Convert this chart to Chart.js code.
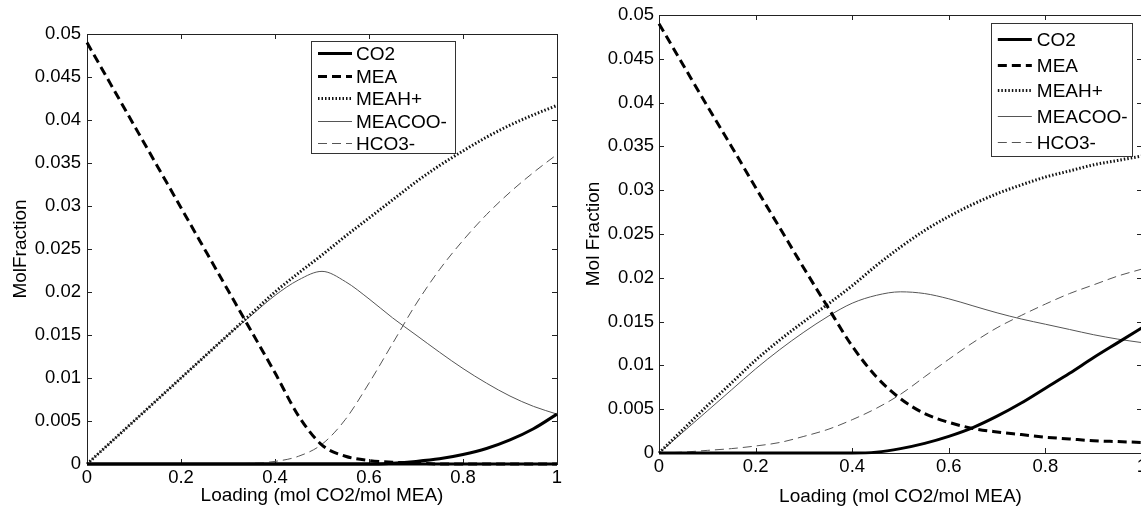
<!DOCTYPE html>
<html>
<head>
<meta charset="utf-8">
<script src="https://cdn.jsdelivr.net/npm/chart.js@4.4.1/dist/chart.umd.min.js"></script>
<style>
  html, body { margin: 0; padding: 0; background: #fff; overflow: hidden; width: 1141px; height: 508px; }
  .panel { position: absolute; top: 0; height: 508px; }
  #leftPanel { left: 0; width: 570px; }
  #rightPanel { left: 570px; width: 573px; }
</style>
</head>
<body>
<div class="panel" id="leftPanel"><canvas id="chartLeft" width="570" height="508"></canvas></div>
<div class="panel" id="rightPanel"><canvas id="chartRight" width="573" height="508"></canvas></div>
<script>
// CO2 loading (mol CO2 / mol MEA)
const loading = [0, 0.05, 0.1, 0.15, 0.2, 0.25, 0.3, 0.35, 0.4, 0.45, 0.5,
                 0.55, 0.6, 0.65, 0.7, 0.75, 0.8, 0.85, 0.9, 0.95, 1];

// Species mole fractions, first case
const co2Left    = [0, 0, 0, 0, 0, 0, 0, 0, 0, 0, 0, 0, 0, 0.0001, 0.0003, 0.0006, 0.0011, 0.0018, 0.0028, 0.0041, 0.0058];
const meaLeft    = [0.0490, 0.0442, 0.0394, 0.0346, 0.0298, 0.0250, 0.0202, 0.0154, 0.0106, 0.0056, 0.0022, 0.0009, 0.0004, 0.0002, 0.0001, 0, 0, 0, 0, 0, 0];
const meahLeft   = [0, 0.0025, 0.0050, 0.0075, 0.0100, 0.0125, 0.0150, 0.0175, 0.0200, 0.0222, 0.0243, 0.0265, 0.0286, 0.0307, 0.0328, 0.0347, 0.0364, 0.0380, 0.0394, 0.0406, 0.0417];
const meacooLeft = [0, 0.0025, 0.0050, 0.0075, 0.0100, 0.0125, 0.0150, 0.0173, 0.0196, 0.0214, 0.0224, 0.0212, 0.0192, 0.0170, 0.0150, 0.0130, 0.0111, 0.0094, 0.0079, 0.0067, 0.0058];
const hco3Left   = [0, 0, 0, 0, 0, 0, 0, 0.0001, 0.0003, 0.0009, 0.0023, 0.0052, 0.0094, 0.0140, 0.0186, 0.0226, 0.0260, 0.0290, 0.0316, 0.0339, 0.0360];

// Species mole fractions, second case
const co2Right    = [0, 0, 0, 0, 0, 0, 0, 0, 0, 0.0001, 0.0005, 0.0011, 0.0019, 0.0029, 0.0042, 0.0057, 0.0074, 0.0091, 0.0109, 0.0126, 0.0143];
const meaRight    = [0.0490, 0.0443, 0.0396, 0.0350, 0.0303, 0.0257, 0.0211, 0.0166, 0.0122, 0.0087, 0.0062, 0.0045, 0.0035, 0.0028, 0.0024, 0.0021, 0.0018, 0.0016, 0.0014, 0.0013, 0.0012];
const meahRight   = [0, 0.0027, 0.0054, 0.0080, 0.0106, 0.0129, 0.0150, 0.0170, 0.0191, 0.0214, 0.0235, 0.0254, 0.0270, 0.0284, 0.0296, 0.0306, 0.0315, 0.0322, 0.0329, 0.0334, 0.0339];
const meacooRight = [0, 0.0024, 0.0048, 0.0072, 0.0096, 0.0118, 0.0138, 0.0156, 0.0171, 0.0180, 0.0184, 0.0182, 0.0176, 0.0168, 0.0160, 0.0153, 0.0147, 0.0141, 0.0135, 0.0130, 0.0126];
const hco3Right   = [0, 0.0001, 0.0003, 0.0005, 0.0008, 0.0012, 0.0019, 0.0027, 0.0038, 0.0051, 0.0067, 0.0087, 0.0107, 0.0126, 0.0143, 0.0157, 0.0170, 0.0182, 0.0192, 0.0202, 0.0210];

const speciesNames = ['CO2', 'MEA', 'MEAH+', 'MEACOO-', 'HCO3-'];
const xTickLabels = ['0', '0.2', '0.4', '0.6', '0.8', '1'];
const yTickLabels = ['0', '0.005', '0.01', '0.015', '0.02', '0.025', '0.03', '0.035', '0.04', '0.045', '0.05'];

const FONT = "'Liberation Sans', Arial, Helvetica, sans-serif";

// line styles for the five species
const speciesStyles = [
  { borderColor: '#000', borderWidth: 3, borderDash: [] },
  { borderColor: '#000', borderWidth: 3, borderDash: [9, 5] },
  { borderColor: '#111', borderWidth: 3, borderDash: [1.5, 2] },
  { borderColor: '#555', borderWidth: 1, borderDash: [] },
  { borderColor: '#555', borderWidth: 1, borderDash: [9, 5] }
];

function toPoints(values) {
  return loading.map((x, i) => ({ x: x, y: values[i] }));
}

function buildDatasets(seriesList) {
  return seriesList.map((values, i) => Object.assign({
    label: speciesNames[i],
    data: toPoints(values),
    pointRadius: 0,
    fill: false,
    cubicInterpolationMode: 'monotone',
    clip: false
  }, speciesStyles[i]));
}

// MATLAB-style boxed axes with inward tick marks
const boxAxes = {
  id: 'boxAxes',
  beforeDatasetsDraw(chart, args, opts) {
    const { ctx, chartArea: a, scales: { x, y } } = chart;
    const L = opts.tickLength;
    ctx.save();
    ctx.strokeStyle = '#222';
    ctx.lineWidth = 1;
    ctx.beginPath();
    x.ticks.forEach(t => {
      const px = Math.round(x.getPixelForValue(t.value)) + 0.5;
      ctx.moveTo(px, a.bottom); ctx.lineTo(px, a.bottom - L);
      ctx.moveTo(px, a.top); ctx.lineTo(px, a.top + L);
    });
    y.ticks.forEach(t => {
      const py = Math.round(y.getPixelForValue(t.value)) + 0.5;
      ctx.moveTo(a.left, py); ctx.lineTo(a.left + L, py);
      ctx.moveTo(a.right, py); ctx.lineTo(a.right - L, py);
    });
    ctx.stroke();
    ctx.strokeRect(Math.round(a.left) + 0.5, Math.round(a.top) + 0.5, Math.round(a.width), Math.round(a.height));
    if (opts.bottomWidth > 1) {
      ctx.lineWidth = opts.bottomWidth;
      ctx.strokeStyle = '#000';
      ctx.beginPath();
      ctx.moveTo(a.left, a.bottom);
      ctx.lineTo(a.right, a.bottom);
      ctx.stroke();
    }
    ctx.restore();
  }
};

// boxed legend inside the axes, with line samples taken from the datasets
const boxLegend = {
  id: 'boxLegend',
  afterDatasetsDraw(chart, args, opts) {
    const { ctx, chartArea: a } = chart;
    const left = a.left + opts.left * a.width;
    const right = a.left + opts.right * a.width;
    const top = a.top + opts.top * a.height;
    const bottom = a.top + opts.bottom * a.height;
    ctx.save();
    ctx.fillStyle = '#fff';
    ctx.fillRect(left, top, right - left, bottom - top);
    ctx.strokeStyle = '#333';
    ctx.lineWidth = 1;
    ctx.setLineDash([]);
    ctx.strokeRect(Math.round(left) + 0.5, Math.round(top) + 0.5, Math.round(right - left), Math.round(bottom - top));
    ctx.font = opts.fontSize + 'px ' + FONT;
    ctx.textBaseline = 'middle';
    ctx.textAlign = 'left';
    chart.data.datasets.forEach((ds, i) => {
      const cy = Math.round(top + opts.firstRow + i * opts.rowStep) + 0.5;
      ctx.strokeStyle = ds.borderColor;
      ctx.lineWidth = ds.borderWidth;
      ctx.setLineDash(ds.borderDash || []);
      ctx.beginPath();
      ctx.moveTo(left + opts.sampleStart, cy);
      ctx.lineTo(left + opts.sampleStart + opts.sampleLength, cy);
      ctx.stroke();
      ctx.setLineDash([]);
      ctx.fillStyle = '#000';
      ctx.fillText(ds.label, left + opts.textStart, cy + 1);
    });
    ctx.restore();
  }
};

function makeChart(canvasId, seriesList, cfg) {
  return new Chart(document.getElementById(canvasId), {
    type: 'line',
    data: { datasets: buildDatasets(seriesList) },
    plugins: [boxAxes, boxLegend],
    options: {
      responsive: false,
      animation: false,
      devicePixelRatio: 1,
      layout: { padding: cfg.padding },
      plugins: {
        legend: { display: false },
        tooltip: { enabled: false },
        boxAxes: { tickLength: 5, bottomWidth: cfg.bottomWidth },
        boxLegend: cfg.legend
      },
      scales: {
        x: {
          type: 'linear',
          min: 0, max: 1,
          grid: { display: false, drawTicks: false },
          border: { display: false },
          ticks: {
            stepSize: 0.2,
            autoSkip: false,
            maxRotation: 0,
            padding: cfg.xTickPad,
            color: '#000',
            font: { family: FONT, size: 18.5 },
            callback: (v, i) => xTickLabels[i]
          },
          title: {
            display: true,
            text: 'Loading (mol CO2/mol MEA)',
            color: '#000',
            font: { family: FONT, size: 19 },
            padding: { top: 0, bottom: cfg.xTitlePad }
          },
          afterFit(s) { s.height = cfg.xAxisHeight; s.paddingLeft = 0; s.paddingRight = 0; }
        },
        y: {
          type: 'linear',
          min: 0, max: 0.05,
          grid: { display: false, drawTicks: false },
          border: { display: false },
          ticks: {
            stepSize: 0.005,
            autoSkip: false,
            padding: cfg.yTickPad,
            color: '#000',
            font: { family: FONT, size: 18.5 },
            callback: (v, i) => yTickLabels[i]
          },
          title: {
            display: true,
            text: cfg.yTitle,
            color: '#000',
            font: { family: FONT, size: 19 },
            padding: { top: cfg.yTitlePad, bottom: 0 }
          },
          afterFit(s) { s.width = cfg.yAxisWidth; s.paddingTop = 0; s.paddingBottom = 0; }
        }
      }
    }
  });
}

makeChart('chartLeft', [co2Left, meaLeft, meahLeft, meacooLeft, hco3Left], {
  padding: { top: 34, right: 13, bottom: 0, left: 0 },
  xAxisHeight: 44, yAxisWidth: 87,
  xTickPad: 3, yTickPad: 6, xTitlePad: 1, yTitlePad: 9,
  yTitle: 'MolFraction',
  bottomWidth: 3,
  legend: { left: 0.4766, right: 0.783, top: 0.0163, bottom: 0.2767,
            firstRow: 12, rowStep: 22.5, sampleStart: 7, sampleLength: 34, textStart: 45, fontSize: 19 }
});

makeChart('chartRight', [co2Right, meaRight, meahRight, meacooRight, hco3Right], {
  padding: { top: 15, right: 1, bottom: 0, left: 0 },
  xAxisHeight: 55, yAxisWidth: 89,
  xTickPad: 3, yTickPad: 5, xTitlePad: 0, yTitlePad: 12,
  yTitle: 'Mol Fraction',
  bottomWidth: 1,
  legend: { left: 0.687, right: 0.979, top: 0.018, bottom: 0.322,
            firstRow: 16, rowStep: 25.75, sampleStart: 7, sampleLength: 34, textStart: 46, fontSize: 19 }
});
</script>
</body>
</html>
